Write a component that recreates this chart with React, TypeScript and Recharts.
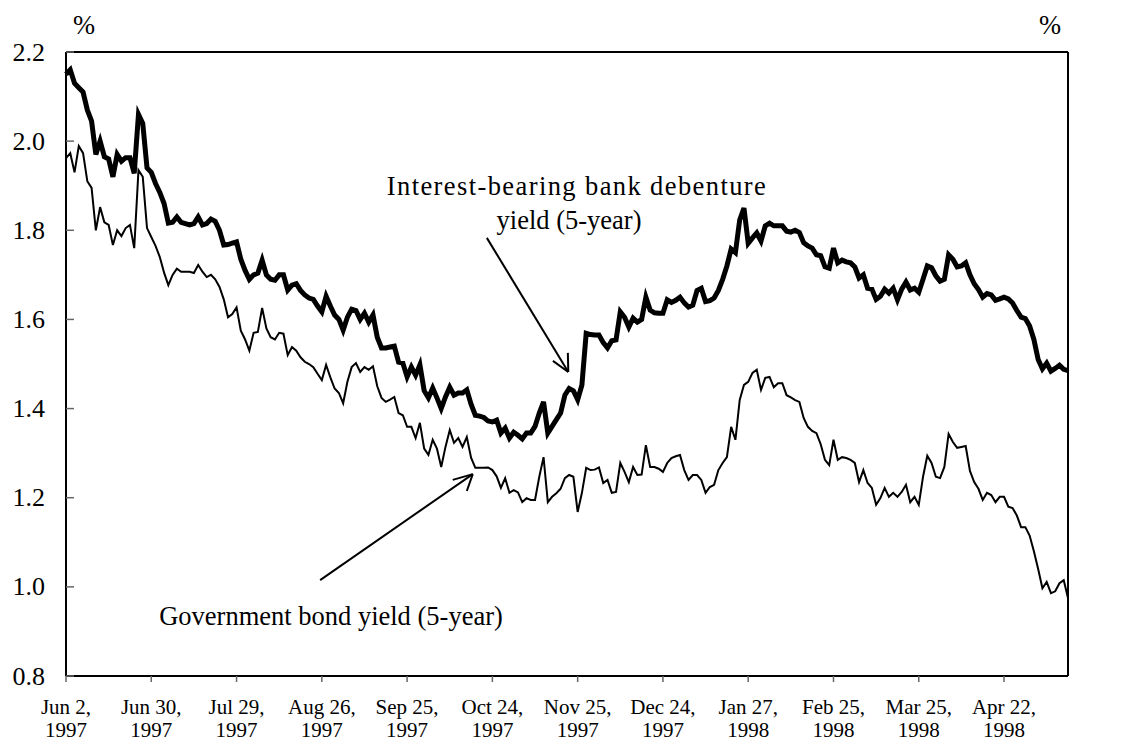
import { LineChart, Line, XAxis, YAxis, ReferenceLine } from 'recharts'

// Business-day index 0 = Jun 2, 1997; one tick every 20 business days.
const tickIdx = [0, 20, 40, 60, 80, 100, 120, 140, 160, 180, 200, 220]
const tickLabels = [
  ['Jun 2,', '1997'], ['Jun 30,', '1997'], ['Jul 29,', '1997'], ['Aug 26,', '1997'],
  ['Sep 25,', '1997'], ['Oct 24,', '1997'], ['Nov 25,', '1997'], ['Dec 24,', '1997'],
  ['Jan 27,', '1998'], ['Feb 25,', '1998'], ['Mar 25,', '1998'], ['Apr 22,', '1998'],
]
const yTicks = [0.8, 1.0, 1.2, 1.4, 1.6, 1.8, 2.0, 2.2]

// Interest-bearing bank debenture yield (5-year), %
const debenture = [
  2.15, 2.16, 2.13, 2.12, 2.11, 2.07, 2.045, 1.97, 2.0, 1.965,
  1.96, 1.92, 1.97, 1.955, 1.963, 1.963, 1.928, 2.06, 2.04, 1.94,
  1.93, 1.905, 1.885, 1.86, 1.816, 1.818, 1.83, 1.818, 1.815, 1.812,
  1.815, 1.83, 1.812, 1.815, 1.825, 1.82, 1.8, 1.767, 1.768, 1.771,
  1.774, 1.735, 1.71, 1.69, 1.7, 1.704, 1.733, 1.7, 1.69, 1.688,
  1.7, 1.7, 1.666, 1.677, 1.68, 1.665, 1.655, 1.648, 1.645, 1.63,
  1.617, 1.652, 1.63, 1.61, 1.6, 1.576, 1.605, 1.623, 1.62, 1.6,
  1.614, 1.594, 1.61, 1.56, 1.536, 1.536, 1.538, 1.54, 1.504, 1.502,
  1.471, 1.493, 1.475, 1.498, 1.44, 1.424, 1.446, 1.424, 1.4, 1.426,
  1.448, 1.43, 1.435, 1.435, 1.442, 1.41, 1.385, 1.383, 1.38, 1.372,
  1.37, 1.374, 1.345, 1.356, 1.334, 1.347, 1.34, 1.332, 1.345, 1.345,
  1.36, 1.39, 1.415, 1.345, 1.36, 1.375, 1.39, 1.43, 1.445, 1.44,
  1.42, 1.453, 1.569, 1.566, 1.565, 1.565, 1.548, 1.536, 1.552, 1.554,
  1.617, 1.605, 1.583, 1.603, 1.594, 1.6, 1.65, 1.621, 1.615, 1.614,
  1.614, 1.644, 1.638, 1.643, 1.65, 1.637, 1.628, 1.632, 1.665, 1.67,
  1.64, 1.642, 1.648, 1.665, 1.69, 1.72, 1.758, 1.75, 1.823, 1.85,
  1.771, 1.783, 1.794, 1.776, 1.81, 1.816, 1.81, 1.81, 1.81, 1.798,
  1.796, 1.8, 1.795, 1.772, 1.765, 1.76, 1.745, 1.743, 1.718, 1.715,
  1.76, 1.727, 1.733, 1.729, 1.727, 1.718, 1.693, 1.7, 1.67, 1.668,
  1.645, 1.652, 1.668, 1.659, 1.67, 1.644, 1.668, 1.684, 1.666, 1.67,
  1.661, 1.69, 1.72, 1.716, 1.698, 1.686, 1.69, 1.745, 1.735, 1.718,
  1.72, 1.727, 1.7, 1.68, 1.667, 1.65, 1.658, 1.655, 1.643, 1.646,
  1.65, 1.646, 1.637, 1.62, 1.605, 1.602, 1.585, 1.555, 1.51, 1.489,
  1.502, 1.484, 1.49, 1.497, 1.488, 1.485,
]

// Government bond yield (5-year), %
const govBond = [
  1.962, 1.973, 1.93, 1.989, 1.973, 1.91, 1.895, 1.8, 1.852, 1.818,
  1.812, 1.767, 1.8, 1.787, 1.805, 1.812, 1.76, 1.935, 1.92, 1.805,
  1.785, 1.765, 1.74, 1.705, 1.677, 1.7, 1.714, 1.707, 1.707, 1.707,
  1.704, 1.722, 1.707, 1.695, 1.7, 1.69, 1.673, 1.645, 1.605, 1.612,
  1.627, 1.575, 1.555, 1.53, 1.57, 1.572, 1.626, 1.58, 1.56, 1.555,
  1.57, 1.568, 1.52, 1.538, 1.53, 1.515, 1.505, 1.5, 1.493, 1.478,
  1.464, 1.498, 1.47, 1.445, 1.435, 1.412, 1.46, 1.493, 1.502, 1.482,
  1.493, 1.487, 1.495, 1.45, 1.424, 1.415, 1.42, 1.426, 1.39, 1.385,
  1.359, 1.359, 1.334, 1.368, 1.31, 1.296, 1.33, 1.31, 1.269, 1.314,
  1.352, 1.323, 1.334, 1.314, 1.336, 1.29, 1.267, 1.267, 1.267, 1.268,
  1.262, 1.248, 1.222, 1.244, 1.211, 1.217, 1.212, 1.19, 1.199, 1.195,
  1.195, 1.247, 1.291, 1.19, 1.202, 1.21, 1.22, 1.244, 1.251, 1.247,
  1.168, 1.211, 1.267, 1.262, 1.263, 1.268, 1.233, 1.24, 1.211, 1.213,
  1.278, 1.258, 1.235, 1.269, 1.251, 1.252, 1.318, 1.269, 1.269, 1.265,
  1.258, 1.278, 1.289, 1.293, 1.296, 1.262, 1.24, 1.251, 1.251, 1.24,
  1.211, 1.224, 1.229, 1.262, 1.278, 1.291, 1.359, 1.33, 1.419, 1.453,
  1.46, 1.48, 1.487, 1.442, 1.469, 1.471, 1.448, 1.457, 1.457, 1.43,
  1.425, 1.419, 1.415, 1.379, 1.359, 1.35, 1.345, 1.32, 1.285, 1.273,
  1.33, 1.285, 1.291, 1.289, 1.285, 1.278, 1.235, 1.262, 1.233, 1.222,
  1.184, 1.199, 1.222, 1.202, 1.211, 1.202, 1.213, 1.229, 1.19, 1.202,
  1.184, 1.247, 1.294, 1.278, 1.247, 1.244, 1.269, 1.343, 1.325, 1.312,
  1.314, 1.316, 1.26, 1.235, 1.22, 1.195, 1.211, 1.206, 1.19, 1.202,
  1.202, 1.18, 1.177, 1.16, 1.134, 1.134, 1.115, 1.08, 1.04, 0.997,
  1.011, 0.986, 0.99, 1.008, 1.015, 0.975,
]

// Annotation arrows in data units: shaft start, tip, and the two barb ends
const debArrow = { from: [98.7, 1.783], tip: [117.8, 1.482], barbs: [[114.2, 1.507], [117.7, 1.525]] }
const govArrow = { from: [59.6, 1.015], tip: [95.4, 1.253], barbs: [[90.7, 1.24], [94.0, 1.215]] }

const FONT = '"Liberation Serif", "Times New Roman", serif'

const rows = debenture.map((d, i) => ({ i, debenture: d, gov: govBond[i] }))

function LeftTick({ x, y, payload }: any) {
  return (
    <g>
      <line x1={x} x2={x + 8} y1={y} y2={y} stroke="#666" strokeWidth={1.5} />
      <text x={x - 21} y={y} textAnchor="end" dominantBaseline="central" fontFamily={FONT} fontSize={26} fill="#000">
        {payload.value.toFixed(1)}
      </text>
    </g>
  )
}

function RightTick({ x, y, payload }: any) {
  return (
    <g>
      <line x1={x} x2={x - 8} y1={y} y2={y} stroke="#666" strokeWidth={1.5} />
      <text x={x + 10} y={y} textAnchor="start" dominantBaseline="central" fontFamily={FONT} fontSize={26} fill="#000">
        {payload.value.toFixed(1)}
      </text>
    </g>
  )
}

function BottomTick({ x, y, payload }: any) {
  const k = tickIdx.indexOf(payload.value)
  const [l1, l2] = tickLabels[k] ?? ['', '']
  return (
    <g>
      <line x1={x} x2={x} y1={y} y2={y + 6} stroke="#666" strokeWidth={1.5} />
      <text x={x} y={y + 31} textAnchor="middle" dominantBaseline="central" fontFamily={FONT} fontSize={21} fill="#000">
        {l1}
      </text>
      <text x={x} y={y + 54} textAnchor="middle" dominantBaseline="central" fontFamily={FONT} fontSize={21} fill="#000">
        {l2}
      </text>
    </g>
  )
}

function arrowLines(a: typeof debArrow, key: string) {
  const seg = (p: number[], q: number[], k: string) => (
    <ReferenceLine
      key={k}
      yAxisId="left"
      segment={[{ x: p[0], y: p[1] }, { x: q[0], y: q[1] }]}
      stroke="#000"
      strokeWidth={2}
    />
  )
  return [
    seg(a.from, a.tip, key + '-shaft'),
    seg(a.barbs[0], a.tip, key + '-b1'),
    seg(a.barbs[1], a.tip, key + '-b2'),
  ]
}

const textStyle = {
  position: 'absolute' as const,
  fontFamily: FONT,
  fontSize: 26.5,
  color: '#000',
  whiteSpace: 'nowrap' as const,
  lineHeight: 1,
}

export default function App() {
  return (
    <div style={{ position: 'absolute', left: 0, top: 0, width: 1129, height: 743, background: '#fff' }}>
      <LineChart width={1129} height={743} data={rows} margin={{ top: 52, right: 15, bottom: 12, left: 20 }}>
        <XAxis
          dataKey="i"
          type="number"
          domain={[0, 235]}
          ticks={tickIdx}
          tick={<BottomTick />}
          tickSize={0}
          tickMargin={0}
          tickLine={false}
          height={55}
          axisLine={{ stroke: '#000', strokeWidth: 2 }}
          interval={0}
        />
        <YAxis
          yAxisId="left"
          domain={[0.8, 2.2]}
          ticks={yTicks}
          tick={<LeftTick />}
          tickSize={0}
          tickMargin={0}
          tickLine={false}
          width={46}
          axisLine={{ stroke: '#000', strokeWidth: 2 }}
          interval={0}
        />
        <YAxis
          yAxisId="right"
          orientation="right"
          domain={[0.8, 2.2]}
          ticks={yTicks}
          tick={<RightTick />}
          tickSize={0}
          tickMargin={0}
          tickLine={false}
          width={46}
          axisLine={{ stroke: '#000', strokeWidth: 2 }}
          interval={0}
        />
        <ReferenceLine yAxisId="left" y={2.2} stroke="#000" strokeWidth={2} />
        <Line yAxisId="left" type="linear" dataKey="gov" stroke="#000" strokeWidth={2} dot={false} isAnimationActive={false} />
        <Line yAxisId="left" type="linear" dataKey="debenture" stroke="#000" strokeWidth={5} dot={false} isAnimationActive={false} />
        {arrowLines(debArrow, 'deb')}
        {arrowLines(govArrow, 'gov')}
      </LineChart>
      <div style={{ ...textStyle, left: 73, top: 12 }}>%</div>
      <div style={{ ...textStyle, left: 1039, top: 12 }}>%</div>
      <div style={{ ...textStyle, left: 577, top: 173, letterSpacing: 1.4, transform: 'translateX(-50%)' }}>Interest-bearing bank debenture</div>
      <div style={{ ...textStyle, left: 569, top: 207, transform: 'translateX(-50%)' }}>yield (5-year)</div>
      <div style={{ ...textStyle, left: 331, top: 603, transform: 'translateX(-50%)' }}>Government bond yield (5-year)</div>
    </div>
  )
}
